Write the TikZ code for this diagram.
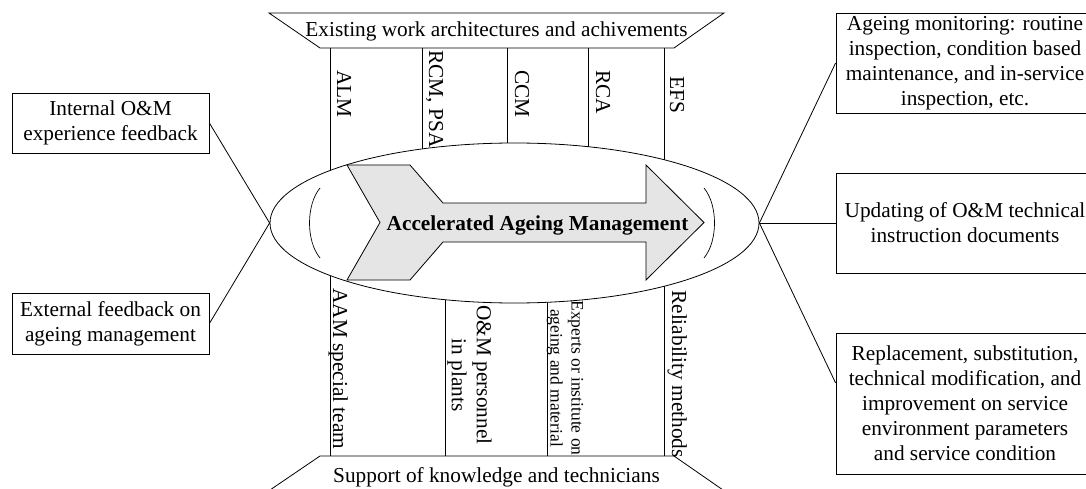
\documentclass[tikz,border=0pt]{standalone}
\usepackage{fontspec}
\setmainfont{Liberation Serif}
\usetikzlibrary{shapes.geometric,calc}
\begin{document}
\begin{tikzpicture}[x=1pt,y=-1pt, line width=0.8pt,
  every node/.style={font=\fontsize{21.3}{25}\selectfont, inner sep=0pt},
  outbox/.style={draw, rectangle, align=center},
  vlbl/.style={rotate=-90, anchor=base west},
  vblock/.style={rotate=-90, align=center},
  arrowshape/.style={draw, fill=gray!20, line join=miter},
  paren/.style={draw, line width=0.7pt}
  ]
\useasboundingbox (0,0) rectangle (1086,489);

% top trapezoid
\draw (269,13) -- (724,13) -- (674,48) -- (320,48) -- cycle;
\node[anchor=base] (toplbl) at (496.5,37) {Existing work architectures and achivements};

% column lines
\foreach \x in {330,422,507,588,664} \draw (\x,48) -- (\x,223);
\foreach \x in {330,445,547,664} \draw (\x,456) -- (\x,223);

% bottom trapezoid
\draw (270,490) -- (320,456) -- (674,456) -- (723,490);
\node[anchor=base] (botlbl) at (496.5,482) {Support of knowledge and technicians};

% ellipse
\node[ellipse, draw, fill=white, minimum width=489pt, minimum height=160pt] (ell) at (514.5,223) {};

% arrow
\draw[arrowshape] (347,165) -- (410,165) -- (443,203) -- (646,203) -- (646,165) -- (704,222.5)
  -- (646,280) -- (646,242) -- (443,242) -- (410,280) -- (347,280) -- (380,222.5) -- cycle;
\node[anchor=base, font=\bfseries\fontsize{21.3}{25}\selectfont] (aam) at (537.5,230) {Accelerated Ageing Management};

% parentheses
\draw[paren] (320,188) .. controls (306,205) and (306,241) .. (320,258);
\draw[paren] (704,188) .. controls (718,205) and (718,241) .. (704,258);

% upper column labels
\node[vlbl] (alm) at (337,70) {ALM};
\node[vlbl] (rcm) at (429,50) {RCM, PSA};
\node[vlbl] (ccm) at (515,70) {CCM};
\node[vlbl] (rca) at (596,70) {RCA};
\node[vlbl] (efs) at (670,76) {EFS};

% lower column labels
\node[vlbl] (aamteam) at (333,288) {AAM special team};
\node[vblock] (omp) at (469.5,375) {O\&M personnel\\in plants};
\node[vblock, font=\fontsize{17.5}{21}\selectfont] (exp) at (565,378) {Experts or institute on\\ageing and material};
\node[vlbl] (rel) at (672,290) {Reliability methods};

% left boxes
\node[outbox, minimum width=197pt, minimum height=60pt] (l1) at (110.5,123) {Internal O\&M\\experience feedback};
\node[outbox, minimum width=197pt, minimum height=61pt] (l2) at (110.5,323.5) {External feedback on\\ageing management};

% right boxes
\node[outbox, minimum width=258pt, minimum height=100pt] (r1) at (965,63) {Ageing monitoring: routine\\inspection, condition based\\maintenance, and in-service\\inspection, etc.};
\node[outbox, minimum width=258pt, minimum height=100pt] (r2) at (965,223) {Updating of O\&M technical\\instruction documents};
\node[outbox, minimum width=258pt, minimum height=141pt] (r3) at (965,403.5) {Replacement, substitution,\\technical modification, and\\improvement on service\\environment parameters\\and service condition};

% connectors
\draw (l1.east) -- (ell.west);
\draw (l2.east) -- (ell.west);
\draw (ell.east) -- (r1.west);
\draw (ell.east) -- (r2.west);
\draw (ell.east) -- ($(r3.north west)!0.355!(r3.south west)$);
\end{tikzpicture}
\end{document}
